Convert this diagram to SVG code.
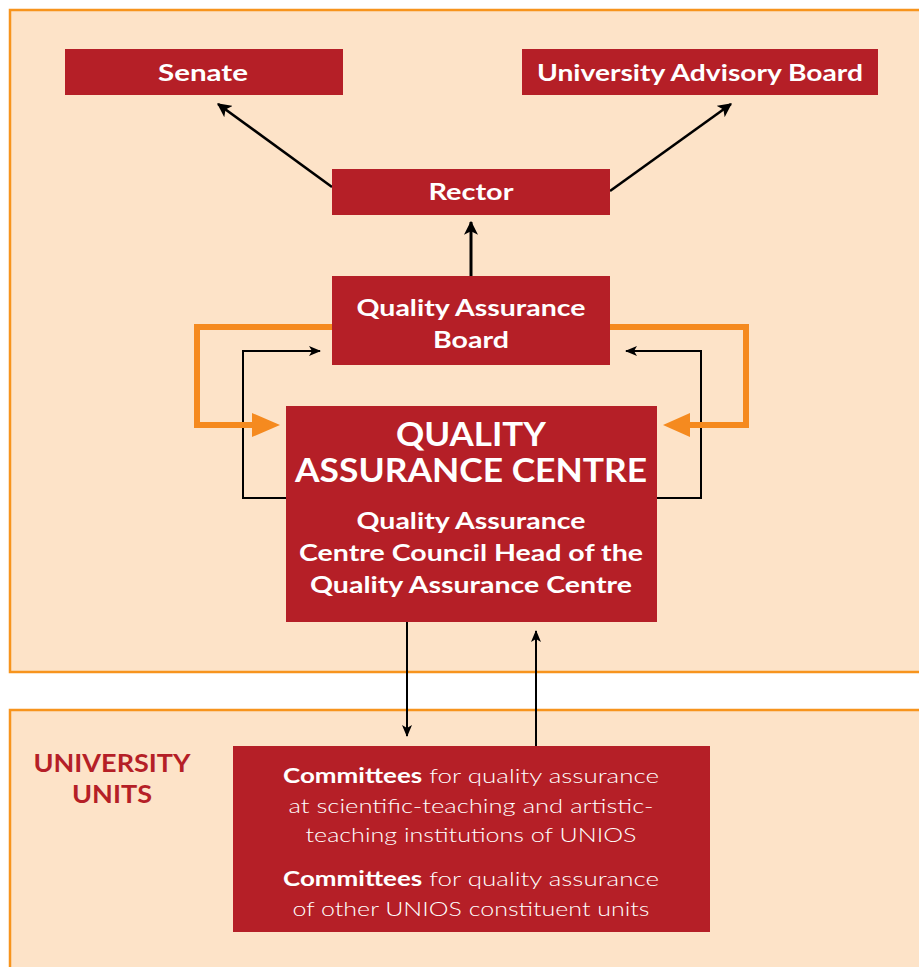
<svg xmlns="http://www.w3.org/2000/svg" width="919" height="967" viewBox="0 0 919 967">
  <style>
    .panel { fill: #FDE3C8; stroke: #F7941D; stroke-width: 2.5; }
    .box { fill: #B51F27; }
    .lbl { font-family: Lato, "Open Sans", "Liberation Sans", sans-serif; fill: #FFFFFF; text-anchor: middle; font-weight: 700; }
    .light { font-family: Lato, "Open Sans", "Liberation Sans", sans-serif; fill: #FFFFFF; text-anchor: middle; font-weight: 300; font-size: 20px; }
    .unit { font-family: Lato, "Open Sans", "Liberation Sans", sans-serif; fill: #B51F27; text-anchor: middle; font-weight: 700; font-size: 24px; }
    .thin { fill: none; stroke: #000000; stroke-width: 2; }
    .diag { fill: none; stroke: #000000; stroke-width: 2.6; }
    .thick { fill: none; stroke: #000000; stroke-width: 3; }
    .feed { fill: none; stroke: #F58A1F; stroke-width: 6; }
  </style>
  <defs>
    <marker id="head" viewBox="0 0 12 10" refX="11" refY="5" markerWidth="12" markerHeight="10" markerUnits="userSpaceOnUse" orient="auto">
      <path d="M0,0 L12,5 L0,10 L3,5 Z" fill="#000000"/>
    </marker>
    <marker id="headBig" viewBox="0 0 12 12" refX="11" refY="6" markerWidth="14" markerHeight="14" markerUnits="userSpaceOnUse" orient="auto">
      <path d="M0,0 L12,6 L0,12 L3,6 Z" fill="#000000"/>
    </marker>
  </defs>

  <rect width="919" height="967" fill="#FFFFFF"/>
  <!-- governance panel and university units panel -->
  <rect class="panel" x="10" y="10" width="930" height="662"/>
  <rect class="panel" x="10" y="710" width="930" height="280"/>

  <g id="connectors">
    <line class="diag" x1="332" y1="187" x2="218" y2="104" marker-end="url(#headBig)"/>
    <line class="diag" x1="610" y1="191" x2="731" y2="104" marker-end="url(#headBig)"/>
    <line class="thick" x1="471" y1="276" x2="471" y2="222" marker-end="url(#headBig)"/>
    <path class="thin" d="M286,498 H243 V351 H320" marker-end="url(#head)"/>
    <path class="thin" d="M657,498 H701 V351 H626" marker-end="url(#head)"/>
    <path class="feed" d="M332,327 H197 V425 H254"/>
    <polygon points="252,413 280,425 252,437" fill="#F58A1F"/>
    <path class="feed" d="M610,327 H746 V425 H688"/>
    <polygon points="690,413 663,425 690,437" fill="#F58A1F"/>
    <line class="thin" x1="407" y1="622" x2="407" y2="736" marker-end="url(#head)"/>
    <line class="thin" x1="536" y1="746" x2="536" y2="631" marker-end="url(#head)"/>
  </g>

  <g id="senate">
    <rect class="box" x="65" y="49" width="278" height="46"/>
    <text class="lbl" x="203" y="81" font-size="23" textLength="90" lengthAdjust="spacingAndGlyphs">Senate</text>
  </g>
  <g id="advisory-board">
    <rect class="box" x="522" y="49" width="356" height="46"/>
    <text class="lbl" x="700" y="81" font-size="23" textLength="326" lengthAdjust="spacingAndGlyphs">University Advisory Board</text>
  </g>
  <g id="rector">
    <rect class="box" x="332" y="169" width="278" height="46"/>
    <text class="lbl" x="471" y="200" font-size="23" textLength="85" lengthAdjust="spacingAndGlyphs">Rector</text>
  </g>
  <g id="qa-board">
    <rect class="box" x="332" y="276" width="278" height="89"/>
    <text class="lbl" x="471" y="316" font-size="23" textLength="229" lengthAdjust="spacingAndGlyphs">Quality Assurance</text>
    <text class="lbl" x="471" y="348" font-size="23" textLength="76" lengthAdjust="spacingAndGlyphs">Board</text>
  </g>
  <g id="qa-centre">
    <rect class="box" x="286" y="406" width="371" height="216"/>
    <text class="lbl" x="471" y="446" font-size="32" font-weight="600" textLength="150" lengthAdjust="spacingAndGlyphs">QUALITY</text>
    <text class="lbl" x="471" y="482" font-size="32" font-weight="600" textLength="352" lengthAdjust="spacingAndGlyphs">ASSURANCE CENTRE</text>
    <text class="lbl" x="471" y="529" font-size="22" textLength="229" lengthAdjust="spacingAndGlyphs">Quality Assurance</text>
    <text class="lbl" x="471" y="561" font-size="22" textLength="344" lengthAdjust="spacingAndGlyphs">Centre Council Head of the</text>
    <text class="lbl" x="471" y="593" font-size="22" textLength="322" lengthAdjust="spacingAndGlyphs">Quality Assurance Centre</text>
  </g>
  <g id="university-units">
    <text class="unit" x="112" y="772" textLength="157" lengthAdjust="spacingAndGlyphs">UNIVERSITY</text>
    <text class="unit" x="112" y="803" textLength="80" lengthAdjust="spacingAndGlyphs">UNITS</text>
  </g>
  <g id="committees">
    <rect class="box" x="233" y="746" width="477" height="186"/>
    <text class="light" x="471" y="783" textLength="376" lengthAdjust="spacingAndGlyphs"><tspan font-weight="700">Committees</tspan> for quality assurance</text>
    <text class="light" x="471" y="813" textLength="365" lengthAdjust="spacingAndGlyphs">at scientific-teaching and artistic-</text>
    <text class="light" x="471" y="842" textLength="331" lengthAdjust="spacingAndGlyphs">teaching institutions of UNIOS</text>
    <text class="light" x="471" y="886" textLength="376" lengthAdjust="spacingAndGlyphs"><tspan font-weight="700">Committees</tspan> for quality assurance</text>
    <text class="light" x="471" y="916" textLength="357" lengthAdjust="spacingAndGlyphs">of other UNIOS constituent units</text>
  </g>
</svg>
